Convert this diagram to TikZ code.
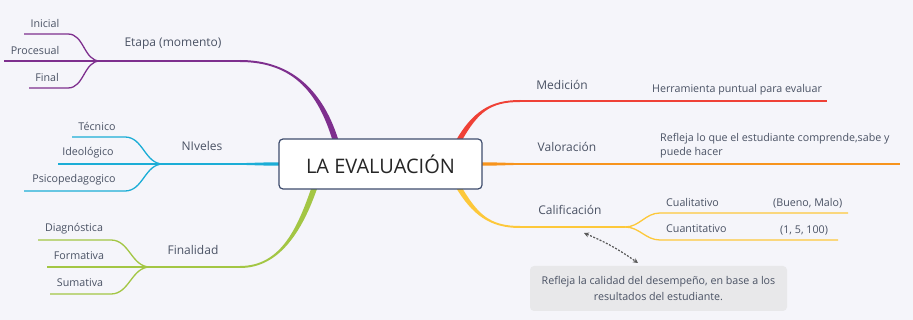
\documentclass[tikz,border=0pt]{standalone}
\usepackage{fontspec}
\setmainfont{Open Sans}
\usetikzlibrary{calc,arrows.meta}

\definecolor{bgcol}{HTML}{F5F5FA}
\definecolor{txtcol}{HTML}{4A5264}
\definecolor{boxcol}{HTML}{3E4C6D}
\definecolor{notecol}{HTML}{E8E8EA}
\definecolor{etapacol}{HTML}{7E2F8E}
\definecolor{nivcol}{HTML}{1BADD6}
\definecolor{fincol}{HTML}{A3C644}
\definecolor{medcol}{HTML}{EF4136}
\definecolor{valcol}{HTML}{F7941D}
\definecolor{calcol}{HTML}{FDC83A}

% tapered branch: colour, start, c1, c2, end, start shift, end shift
\newcommand{\taper}[7]{%
	\fill[#1] ($(#2)+(#6)$) .. controls ($(#3)+(#6)$) and ($(#4)+(#7)$) .. ($(#5)+(#7)$)
		-- ($(#5)-(#7)$) .. controls ($(#4)-(#7)$) and ($(#3)-(#6)$) .. ($(#2)-(#6)$) -- cycle;}

\begin{document}
\begin{tikzpicture}[
		x=1pt, y=-1pt,
		every node/.style={text=txtcol, inner sep=0pt},
		leaf/.style={font=\fontsize{10.7}{12}\selectfont},
		topic/.style={font=\fontsize{12}{14}\selectfont},
		stem/.style={line width=1.6pt},
		twig/.style={line width=1.3pt},
		fork left/.style={out=180, in=0},
		fork right/.style={out=0, in=180}
	]
	\fill[bgcol] (0,0) rectangle (913,320);

	% Etapa (momento)
	\coordinate (etS) at (336,142);
	\coordinate (etE) at (240,61);
	\coordinate (etF) at (100,61);
	\taper{etapacol}{etS}{322,95}{295,61}{etE}{3,0}{0,-1}
	\draw[stem, etapacol] (etE) -- (etF);
	\draw[twig, etapacol] (etF) to[fork left] (68,34) -- (24,34);
	\draw[twig, etapacol] (etF) -- (4,61);
	\draw[twig, etapacol] (etF) to[fork left] (68,88) -- (29,88);
	\node[topic] (etapa) at (173,44) {Etapa (momento)};
	\node[leaf] (inicial) at (45,23) {Inicial};
	\node[leaf] (procesual) at (35,50) {Procesual};
	\node[leaf] (final) at (47,77) {Final};

	% NIveles
	\coordinate (niS) at (281,164);
	\coordinate (niE) at (240,164);
	\coordinate (niF) at (163,164);
	\taper{nivcol}{niS}{260,164}{250,164}{niE}{0,-1.7}{0,-0.9}
	\draw[stem, nivcol] (niE) -- (niF);
	\draw[twig, nivcol] (niF) to[fork left] (125,137) -- (72,137);
	\draw[twig, nivcol] (niF) -- (58,164);
	\draw[twig, nivcol] (niF) to[fork left] (125,191) -- (24,191);
	\node[topic] (niveles) at (202,146) {NIveles};
	\node[leaf] (tecnico) at (97,126) {Técnico};
	\node[leaf] (ideologico) at (88,153) {Ideológico};
	\node[leaf] (psico) at (74,180) {Psicopedagogico};

	% Finalidad
	\coordinate (fiS) at (315,186);
	\coordinate (fiE) at (240,267);
	\coordinate (fiF) at (150,267);
	\taper{fincol}{fiS}{300,230}{280,267}{fiE}{3,0}{0,1}
	\draw[stem, fincol] (fiE) -- (fiF);
	\draw[twig, fincol] (fiF) to[fork left] (111,240) -- (38,240);
	\draw[twig, fincol] (fiF) -- (47,267);
	\draw[twig, fincol] (fiF) to[fork left] (111,294) -- (50,294);
	\node[topic] (finalidad) at (193,250) {Finalidad};
	\node[leaf] (diag) at (74,229) {Diagnóstica};
	\node[leaf] (formativa) at (79,256) {Formativa};
	\node[leaf] (sumativa) at (80,283) {Sumativa};

	% Medición
	\coordinate (meS) at (458,142);
	\coordinate (meE) at (520,101);
	\taper{medcol}{meS}{475,112}{490,101}{meE}{3,0}{0,1}
	\draw[stem, medcol] (meE) -- (827,101);
	\node[topic] (medicion) at (562,85) {Medición};
	\node[leaf, anchor=west] (herramienta) at (652,90) {Herramienta puntual para evaluar};

	% Valoración
	\coordinate (vaS) at (480,164);
	\coordinate (vaE) at (520,164);
	\taper{valcol}{vaS}{500,164}{510,164}{vaE}{0,1.7}{0,0.9}
	\draw[stem, valcol] (vaE) -- (900,164);
	\node[topic] (valoracion) at (567,147) {Valoración};
	\node[leaf, anchor=west, align=left, font=\fontsize{10.7}{14}\selectfont] (refleja) at (660,146)
		{Refleja lo que el estudiante comprende,sabe y\\puede hacer};

	% Calificación
	\coordinate (caS) at (458,186);
	\coordinate (caE) at (520,227);
	\coordinate (caF) at (625,227);
	\taper{calcol}{caS}{475,215}{490,227}{caE}{3,0}{0,-1}
	\draw[stem, calcol] (caE) -- (caF);
	\draw[twig, calcol] (caF) to[fork right] (660,213) -- (848,213);
	\draw[twig, calcol] (caF) to[fork right] (660,240) -- (838,240);
	\node[topic] (calificacion) at (570,210) {Calificación};
	\node[leaf, anchor=west] (cualitativo) at (666,202) {Cualitativo};
	\node[leaf, anchor=west] (bueno) at (773,203) {(Bueno, Malo)};
	\node[leaf, anchor=west] (cuantitativo) at (666,229) {Cuantitativo};
	\node[leaf, anchor=west] (numeros) at (780,230) {(1, 5, 100)};

	% centro y nota
	\node[draw=boxcol, fill=white, rounded corners=4pt, line width=1.2pt,
		minimum width=203pt, minimum height=50pt, text=black!85,
		font=\fontsize{20}{24}\selectfont] (eval) at (380.5,164) {LA EVALUACIÓN};
	\node[fill=notecol, rounded corners=4pt, minimum width=257pt, minimum height=45pt,
		align=center, font=\fontsize{10.7}{16}\selectfont] (nota) at (658.5,288.5)
		{Refleja la calidad del desempeño, en base a los\\resultados del estudiante.};
	\coordinate (anA) at (584,233);
	\coordinate (anB) at (638,263);
	\draw[black!65, line width=1.2pt, dash pattern=on 2pt off 1.5pt,
		{Stealth[length=5pt,width=5pt]}-{Stealth[length=5pt,width=5pt]}] (anA) to[bend left=6] (anB);
\end{tikzpicture}
\end{document}
